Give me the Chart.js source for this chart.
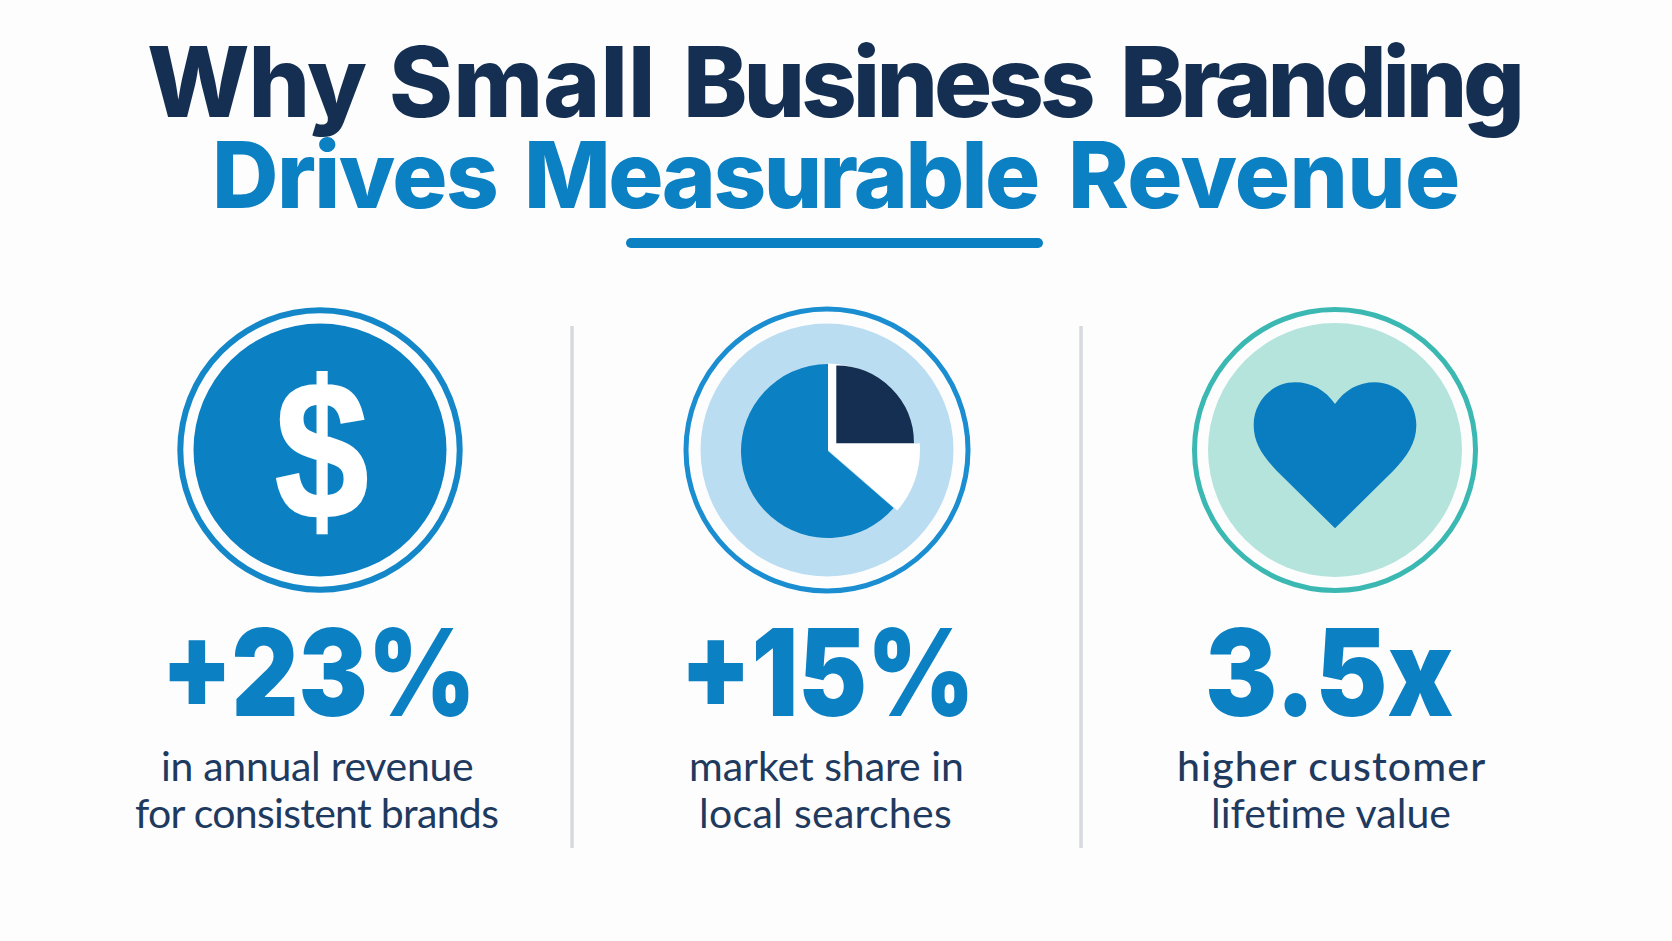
<!DOCTYPE html>
<html lang="en">
<head>
<meta charset="utf-8">
<title>Why Small Business Branding Drives Measurable Revenue</title>
<script src="https://cdn.jsdelivr.net/npm/chart.js@4/dist/chart.umd.min.js"></script>
<style>
html,body{margin:0;padding:0;width:1672px;height:941px;overflow:hidden;background:#fdfdfe}
#stage{position:absolute;left:0;top:0;width:1672px;height:941px}
#deco{position:absolute;left:0;top:0}
#pie{position:absolute;left:708px;top:330px}
.t{position:absolute;white-space:pre;line-height:1}
</style>
</head>
<body>
<div id="stage">
<svg id="deco" width="1672" height="941" viewBox="0 0 1672 941" xmlns="http://www.w3.org/2000/svg">
  <rect x="626" y="238" width="417" height="10" rx="5" fill="#0b80c3"/>
  <rect x="570.3" y="326" width="3.5" height="522" fill="#d6d9e0"/>
  <rect x="1079.3" y="326" width="3.5" height="522" fill="#d6d9e0"/>

  <circle cx="320" cy="450" r="139.7" fill="none" stroke="#1487c9" stroke-width="6"/>
  <circle cx="320" cy="450" r="126.5" fill="#0b80c3"/>

  <circle cx="827" cy="450" r="141" fill="none" stroke="#1a8ed0" stroke-width="5"/>
  <circle cx="827" cy="450" r="126.5" fill="#bbddf2"/>

  <circle cx="1335" cy="450" r="140.5" fill="none" stroke="#3ab8b1" stroke-width="5"/>
  <circle cx="1335" cy="450" r="127" fill="#b5e4dc"/>
  <path transform="translate(1185 300) scale(0.33333)" fill="#0a7cc0"
    d="M450 312 C420 270 380 247 330 247 C260 247 206 305 206 375 C206 430 235 470 275 512 L450 685 L625 512 C665 470 694 430 694 375 C694 305 640 247 570 247 C520 247 480 270 450 312 Z"/>
</svg>
<canvas id="pie" width="240" height="240"></canvas>
</div>
<script>
// ---- data ----
const pieCategories = ['Navy slice', 'White slice', 'Blue slice'];
const pieShares = [25, 11.4, 63.6];
const titleLines = ['Why Small Business Branding', 'Drives Measurable Revenue'];
const statLabels = ['+23%', '+15%', '3.5x'];
const captionFirst = ['in annual revenue', 'market share in', 'higher customer'];
const captionSecond = ['for consistent brands', 'local searches', 'lifetime value'];
const iconSymbol = ['$'];

// ---- colours ----
const NAVY = '#142f52', BLUE = '#0b80c3', INK = '#1f3a5f';

// ---- text helpers ----
const stage = document.getElementById('stage');
const meter = document.createElement('canvas').getContext('2d');
function toBaseline(d, base) {
  const probe = document.createElement('span');
  probe.style.cssText = 'display:inline-block;width:0;height:0';
  d.appendChild(probe);
  stage.appendChild(d);
  const b = probe.getBoundingClientRect().bottom;
  d.removeChild(probe);
  d.style.top = (base - b) + 'px';
}
function shell(font, color) {
  const d = document.createElement('div');
  d.className = 't';
  d.style.font = font;
  d.style.lineHeight = '1';
  d.style.color = color;
  d.style.top = '0px';
  return d;
}
// ink box fitted between x0 and x1 by letter spacing
function place(text, x0, x1, base, weight, size, family, color) {
  const font = weight + ' ' + size + 'px ' + family;
  meter.font = font;
  const m = meter.measureText(text);
  const ink = m.actualBoundingBoxLeft + m.actualBoundingBoxRight;
  const d = shell(font, color);
  if (text.length > 1) d.style.letterSpacing = ((x1 - x0 - ink) / (text.length - 1)) + 'px';
  d.style.left = (x0 + m.actualBoundingBoxLeft) + 'px';
  d.textContent = text;
  toBaseline(d, base);
  return d;
}
// ink box fitted between x0 and x1 by a horizontal squeeze
function squeeze(text, x0, x1, base, weight, size, family, color) {
  const font = weight + ' ' + size + 'px ' + family;
  meter.font = font;
  const m = meter.measureText(text);
  const k = (x1 - x0) / (m.actualBoundingBoxLeft + m.actualBoundingBoxRight);
  const d = shell(font, color);
  d.style.left = (x0 + m.actualBoundingBoxLeft * k) + 'px';
  d.style.transformOrigin = 'left center';
  d.style.transform = 'scaleX(' + k + ')';
  d.textContent = text;
  toBaseline(d, base);
  return d;
}
// one line of text whose words each get their own ink box
function placeWords(text, boxes, base, weight, size, family, color) {
  const font = weight + ' ' + size + 'px ' + family;
  meter.font = font;
  const words = text.split(' ');
  const spaceAdv = meter.measureText(' ').width;
  const d = shell(font, color);
  const first = meter.measureText(words[0]);
  d.style.left = (boxes[0][0] + first.actualBoundingBoxLeft) + 'px';
  let pen = boxes[0][0] + first.actualBoundingBoxLeft;
  words.forEach((w, i) => {
    const m = meter.measureText(w);
    const ink = m.actualBoundingBoxLeft + m.actualBoundingBoxRight;
    const ls = (boxes[i][1] - boxes[i][0] - ink) / (w.length - 1);
    const s = document.createElement('span');
    s.style.letterSpacing = ls + 'px';
    s.textContent = w;
    d.appendChild(s);
    pen += m.width + ls * w.length;
    if (i < words.length - 1) {
      const next = meter.measureText(words[i + 1]);
      const target = boxes[i + 1][0] + next.actualBoundingBoxLeft;
      const g = document.createElement('span');
      g.style.letterSpacing = (target - pen - spaceAdv) + 'px';
      g.textContent = ' ';
      d.appendChild(g);
      pen = target;
    }
  });
  toBaseline(d, base);
  return d;
}

const HEAD = 'Inter, sans-serif', BODY = 'Lato, sans-serif';
placeWords(titleLines[0], [[149, 366], [392, 650], [688, 1093], [1125, 1520]], 117, 800, 97, HEAD, NAVY);
placeWords(titleLines[1], [[217, 496], [529, 1038], [1073, 1458]], 208, 800, 92, HEAD, BLUE);

squeeze(statLabels[0], 170, 469, 716, 900, 121, HEAD, BLUE);
squeeze(statLabels[1], 689, 968, 716, 900, 121, HEAD, BLUE);
squeeze(statLabels[2], 1209, 1453, 716, 900, 121, HEAD, BLUE);

place(captionFirst[0], 163, 473, 781, 400, 41, BODY, INK);
place(captionSecond[0], 135, 499, 828, 400, 41, BODY, INK);
place(captionFirst[1], 691, 962, 781, 400, 41, BODY, INK);
place(captionSecond[1], 702, 951, 828, 400, 41, BODY, INK);
place(captionFirst[2], 1179, 1486, 781, 500, 41, BODY, INK);
place(captionSecond[2], 1214, 1452, 828, 400, 41, BODY, INK);

const dollar = squeeze(iconSymbol[0], 276.5, 366, 517.5, 700, 197, '"Liberation Sans", sans-serif', '#ffffff');
dollar.style.webkitTextStroke = '2.5px #ffffff';

// ---- pie: slices share a centre but each has its own reach; the navy one is pulled out ----
const reach = [77.7, 92, 87];
const shift = [[8.3, -6.7], [0, 0], [0, 1]];
const sliceLayout = {
  id: 'sliceLayout',
  beforeDatasetsDraw(chart) {
    const arcs = chart.getDatasetMeta(0).data;
    const cx = chart.width / 2, cy = chart.height / 2;
    const { ctx } = chart;
    arcs.forEach((a, i) => {
      a.x = cx + shift[i][0];
      a.y = cy + shift[i][1];
      a.outerRadius = reach[i];
      a.innerRadius = 0;
    });
    const n = arcs[0];
    ctx.save();
    ctx.fillStyle = '#ffffff';
    ctx.beginPath();
    ctx.moveTo(cx, cy);
    ctx.arc(cx, cy, 86.5, n.startAngle, n.endAngle);
    ctx.closePath();
    ctx.fill();
    ctx.beginPath();
    ctx.moveTo(cx, cy);
    ctx.arc(cx, cy, reach[1], n.endAngle - Math.asin(6.7 / reach[1]), n.endAngle);
    ctx.closePath();
    ctx.fill();
    ctx.restore();
  }
};
new Chart(document.getElementById('pie'), {
  type: 'pie',
  data: {
    labels: pieCategories,
    datasets: [{
      data: pieShares,
      backgroundColor: [NAVY, '#ffffff', BLUE],
      borderWidth: 0,
      hoverOffset: 0
    }]
  },
  options: {
    responsive: false,
    animation: false,
    events: [],
    plugins: { legend: { display: false }, tooltip: { enabled: false } }
  },
  plugins: [sliceLayout]
});
</script>
</body>
</html>
